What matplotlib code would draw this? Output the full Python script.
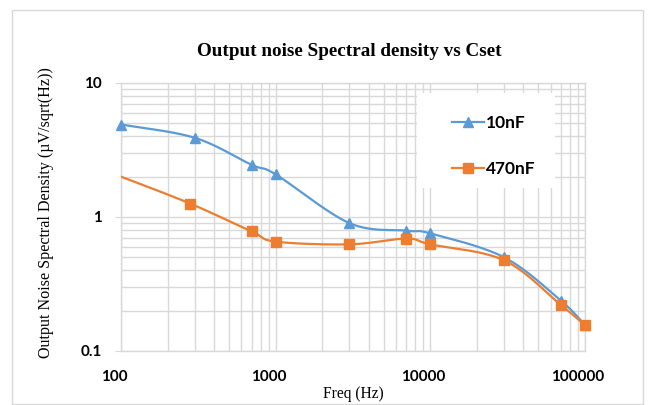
import numpy as np
import matplotlib
matplotlib.use("Agg")
import matplotlib.pyplot as plt
from matplotlib.patches import Rectangle
from matplotlib.lines import Line2D
from matplotlib.ticker import FixedLocator, NullFormatter, LogLocator, FixedFormatter
import matplotlib.transforms as mtransforms

# ---- data ----
freq_10nF = [100, 300, 700, 1000, 3000, 7000, 10000, 30000, 70000, 100000]
nsd_10nF = [4.9, 3.9, 2.45, 2.08, 0.90, 0.79, 0.755, 0.50, 0.237, 0.156]
freq_470nF = [100, 280, 700, 1000, 3000, 7000, 10000, 30000, 70000, 100000]
nsd_470nF = [2.0, 1.26, 0.78, 0.655, 0.625, 0.69, 0.625, 0.475, 0.22, 0.156]
series_names = ["10nF", "470nF"]
x_ticks = [100, 1000, 10000, 100000]
x_tick_labels = ["100", "1000", "10000", "100000"]
y_ticks = [0.1, 1, 10]
y_tick_labels = ["0.1", "1", "10"]

BLUE = "#5B9BD5"
ORANGE = "#ED7D31"
GRID = "#D9D9D9"


def smooth(xs, ys, n=30):
    """Excel-like Bezier smoothing in log-log space."""
    P = np.column_stack([np.log10(xs), np.log10(ys)])
    Pe = np.vstack([P[0], P, P[-1]])
    segs = []
    t = np.linspace(0, 1, n, endpoint=False)[:, None]
    for i in range(1, len(Pe) - 2):
        p0, p1, p2, p3 = Pe[i - 1], Pe[i], Pe[i + 1], Pe[i + 2]
        c1 = p1 + (p2 - p0) / 6.0
        c2 = p2 - (p3 - p1) / 6.0
        pts = (1 - t) ** 3 * p1 + 3 * (1 - t) ** 2 * t * c1 + 3 * (1 - t) * t ** 2 * c2 + t ** 3 * p2
        segs.append(pts)
    segs.append(P[-1][None, :])
    S = np.vstack(segs)
    return 10 ** S[:, 0], 10 ** S[:, 1]


fig = plt.figure(figsize=(6.48, 4.05), dpi=100)
W, H = 648, 405
ax = fig.add_axes([121 / W, 1 - 351 / H, (585 - 121) / W, (351 - 83) / H])

ax.set_xscale("log")
ax.set_yscale("log")
ax.set_xlim(100, 100000)
ax.set_ylim(0.1, 10)

# grid
ax.set_axisbelow(True)
ax.xaxis.set_major_locator(FixedLocator(x_ticks))
ax.xaxis.set_minor_locator(LogLocator(base=10, subs=np.arange(2, 10)))
ax.yaxis.set_major_locator(FixedLocator(y_ticks))
ax.yaxis.set_minor_locator(LogLocator(base=10, subs=np.arange(2, 10)))
ax.xaxis.set_major_formatter(FixedFormatter(x_tick_labels))
ax.yaxis.set_major_formatter(FixedFormatter(y_tick_labels))
ax.xaxis.set_minor_formatter(NullFormatter())
ax.yaxis.set_minor_formatter(NullFormatter())
ax.grid(True, which="both", color=GRID, lw=1.0)
for s in ax.spines.values():
    s.set_color(GRID)
    s.set_linewidth(1.0)
ax.tick_params(axis="x", which="both", length=0, pad=14)
ax.tick_params(axis="y", which="major", length=4, color=GRID, pad=10)
ax.tick_params(axis="y", which="minor", length=0)

tick_font = dict(family=["Lato", "DejaVu Sans"], weight="bold", size=11)
for lab in ax.get_xticklabels():
    lab.set_fontproperties(matplotlib.font_manager.FontProperties(**tick_font))
for lab in ax.get_yticklabels():
    lab.set_fontproperties(matplotlib.font_manager.FontProperties(**tick_font))
shift = mtransforms.ScaledTranslation(-7 / 100, 0, fig.dpi_scale_trans)
for lab in ax.get_xticklabels():
    lab.set_transform(lab.get_transform() + shift)

# series
sx, sy = smooth(freq_10nF, nsd_10nF)
ax.plot(sx, sy, color=BLUE, lw=1.6, zorder=3, solid_capstyle="round")
ax.plot(freq_10nF, nsd_10nF, ls="none", marker="^", ms=7, color=BLUE, zorder=4, clip_on=False)
sx2, sy2 = smooth(freq_470nF, nsd_470nF)
ax.plot(sx2, sy2, color=ORANGE, lw=1.6, zorder=3, solid_capstyle="round")
ax.plot(freq_470nF, nsd_470nF, ls="none", marker="s", ms=6.5, color=ORANGE, zorder=4,
        markevery=list(range(1, len(freq_470nF))), clip_on=False)

# legend box
ax.add_patch(Rectangle((417 / W, 1 - 188 / H), (555 - 417) / W, (188 - 93) / H,
                       transform=fig.transFigure, facecolor="white", edgecolor="none", zorder=2))
handles = [Line2D([], [], color=BLUE, lw=1.6, marker="^", ms=7),
           Line2D([], [], color=ORANGE, lw=1.6, marker="s", ms=6.5)]
leg = fig.legend(handles, series_names, loc="upper left",
                 bbox_to_anchor=(443 / W, 1 - 106 / H), frameon=False,
                 prop=dict(family=["Lato", "DejaVu Sans"], weight="bold", size=12.5),
                 handlelength=1.85, handletextpad=0.15, labelspacing=1.75, borderpad=0)

# titles
fig.text(349 / W, 1 - 52 / H, "Output noise Spectral density vs Cset", ha="center", va="center",
         family="Liberation Serif", weight="bold", size=13.8)
fig.text(353 / W, 1 - 394 / H, "Freq (Hz)", ha="center", va="center",
         family="Liberation Serif", size=11.2)
fig.text(46 / W, 1 - 213 / H, "Output Noise Spectral Density (\u00b5V/sqrt(Hz))", ha="center",
         va="center", rotation=90, family="Liberation Serif", size=11.6)

# chart border
fig.patches.append(Rectangle((12 / W, 1 - 404 / H), (643 - 12) / W, (404 - 10) / H,
                             transform=fig.transFigure, facecolor="none", edgecolor=GRID, lw=1.0))

fig.savefig("out.png", dpi=100)
